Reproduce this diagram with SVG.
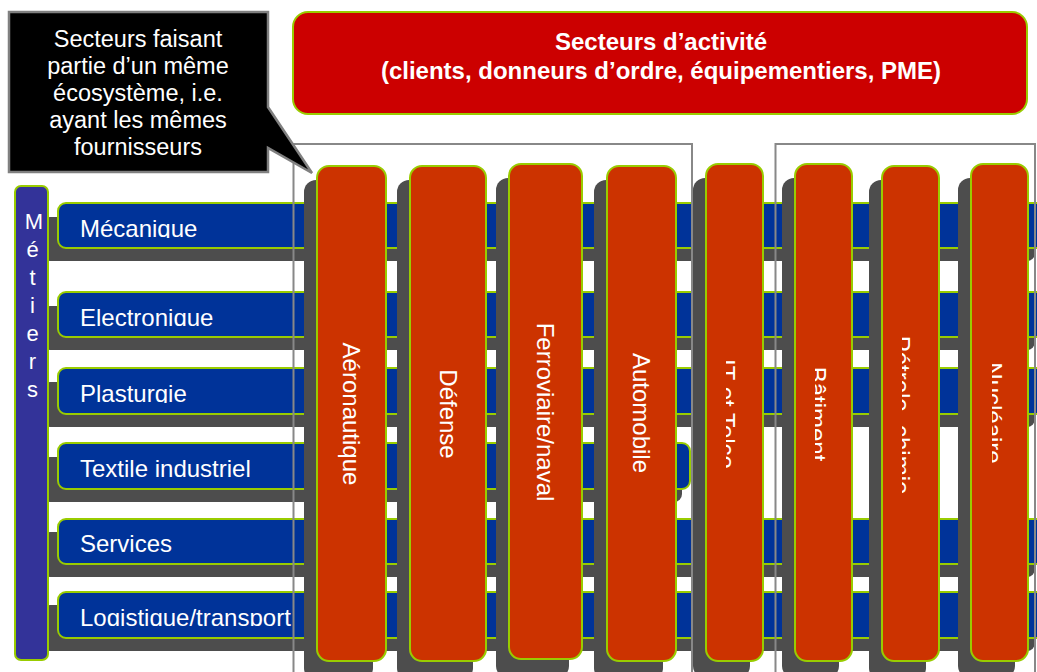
<svg xmlns="http://www.w3.org/2000/svg" width="1037" height="672" viewBox="0 0 1037 672">
<style>
text{font-family:"Liberation Sans",Arial,sans-serif;fill:#fff}
.lbl{font-size:24px}
.vl{font-size:24px;text-anchor:middle}
.bshadow{fill:#4d4d4d}
.blue{fill:#003399;stroke:#99cc00;stroke-width:2}
.red{fill:#cc3300;stroke:#99cc00;stroke-width:2}
.rshadow{fill:#4d4d4d}
.grp{fill:none;stroke:#888;stroke-width:2}
</style>
<defs>
<clipPath id="c1"><rect x="0" y="190" width="1037" height="48"/></clipPath>
<clipPath id="c2"><rect x="0" y="290" width="1037" height="36"/></clipPath>
<clipPath id="c3"><rect x="0" y="360" width="1037" height="43"/></clipPath>
<clipPath id="c6"><rect x="0" y="590" width="1037" height="36"/></clipPath>
<clipPath id="v5"><rect x="726" y="300" width="40" height="220"/></clipPath>
<clipPath id="v6"><rect x="815" y="300" width="40" height="220"/></clipPath>
<clipPath id="v7"><rect x="902" y="300" width="40" height="220"/></clipPath>
<clipPath id="v8"><rect x="992" y="300" width="40" height="220"/></clipPath>
</defs>
<rect width="1037" height="672" fill="#fff"/>

<g id="metiers-rows">
<g id="row-mecanique">
<rect class="bshadow" x="42" y="217" width="993" height="44" rx="8"/>
<rect class="blue" x="58" y="203" width="990" height="45" rx="8"/>
<g clip-path="url(#c1)"><text class="lbl" x="80" y="237">Mécanique</text></g>
</g>
<g id="row-electronique">
<rect class="bshadow" x="42" y="306" width="993" height="44" rx="8"/>
<rect class="blue" x="58" y="292" width="990" height="45" rx="8"/>
<g clip-path="url(#c2)"><text class="lbl" x="80" y="326">Electronique</text></g>
</g>
<g id="row-plasturgie">
<rect class="bshadow" x="42" y="382" width="993" height="45" rx="8"/>
<rect class="blue" x="58" y="368" width="990" height="46" rx="8"/>
<g clip-path="url(#c3)"><text class="lbl" x="80" y="402">Plasturgie</text></g>
</g>
<g id="row-textile">
<rect class="bshadow" x="42" y="457" width="640" height="45" rx="8"/>
<rect class="blue" x="58" y="443" width="632" height="46" rx="8"/>
<text class="lbl" x="80" y="477">Textile industriel</text>
</g>
<g id="row-services">
<rect class="bshadow" x="42" y="532" width="993" height="45" rx="8"/>
<rect class="blue" x="58" y="519" width="990" height="45" rx="8"/>
<text class="lbl" x="80" y="552">Services</text>
</g>
<g id="row-logistique">
<rect class="bshadow" x="42" y="605" width="993" height="46" rx="8"/>
<rect class="blue" x="58" y="592" width="990" height="46" rx="8"/>
<g clip-path="url(#c6)"><text class="lbl" x="80" y="626">Logistique/transport</text></g>
</g>
</g>

<g id="metiers">
<rect x="15" y="186" width="33" height="474" rx="6" fill="#333399" stroke="#99cc00" stroke-width="2"/>
<g style="font-size:22px;text-anchor:middle">
<text x="34" y="229">M</text>
<text x="32.5" y="257">é</text>
<text x="32.5" y="285">t</text>
<text x="32.5" y="313">i</text>
<text x="32.5" y="341">e</text>
<text x="32.5" y="369">r</text>
<text x="32.5" y="397">s</text>
</g>
</g>

<g id="connectors">
<rect class="grp" x="293.5" y="144" width="398.5" height="540"/>
<rect class="grp" x="775.5" y="144" width="259.5" height="540"/>
</g>

<g id="sect-aero">
<rect class="rshadow" x="304" y="180" width="69" height="500" rx="12"/>
<rect class="red" x="317" y="166" width="69" height="495" rx="12"/>
<text class="vl" transform="translate(343,414) rotate(90)">Aéronautique</text>
</g>
<g id="sect-defense">
<rect class="rshadow" x="397" y="180" width="76" height="500" rx="12"/>
<rect class="red" x="410" y="166" width="76" height="495" rx="12"/>
<text class="vl" transform="translate(439.5,414) rotate(90)">Défense</text>
</g>
<g id="sect-ferro">
<rect class="rshadow" x="496" y="178" width="73" height="500" rx="12"/>
<rect class="red" x="509" y="164" width="73" height="495" rx="12"/>
<text class="vl" transform="translate(537,412) rotate(90)">Ferroviaire/naval</text>
</g>
<g id="sect-auto">
<rect class="rshadow" x="594" y="180" width="69" height="500" rx="12"/>
<rect class="red" x="607" y="166" width="69" height="495" rx="12"/>
<text class="vl" transform="translate(633,413) rotate(90)">Automobile</text>
</g>
<g id="sect-it">
<rect class="rshadow" x="693" y="178" width="57" height="500" rx="12"/>
<rect class="red" x="706" y="164" width="57" height="497" rx="12"/>
<g clip-path="url(#v5)"><text class="vl" transform="translate(718,414) rotate(90)">IT et Telco</text></g>
</g>
<g id="sect-batiment">
<rect class="rshadow" x="782" y="178" width="57" height="500" rx="12"/>
<rect class="red" x="795" y="164" width="57" height="497" rx="12"/>
<g clip-path="url(#v6)"><text class="vl" transform="translate(809,414) rotate(90)">Bâtiment</text></g>
</g>
<g id="sect-petrole">
<rect class="rshadow" x="869" y="180" width="57" height="500" rx="12"/>
<rect class="red" x="882" y="166" width="57" height="495" rx="12"/>
<g clip-path="url(#v7)"><text class="vl" transform="translate(893,415) rotate(90)">Pétrole, chimie</text></g>
</g>
<g id="sect-nucleaire">
<rect class="rshadow" x="958" y="178" width="57" height="500" rx="12"/>
<rect class="red" x="971" y="164" width="57" height="497" rx="12"/>
<g clip-path="url(#v8)"><text class="vl" transform="translate(985,413) rotate(90)">Nucléaire</text></g>
</g>

<g id="callout">
<path d="M9,12 H268 V107 L312,173 L268,148 V172 H9 Z" fill="#000" stroke="#808080" stroke-width="2.5" stroke-linejoin="miter"/>
<g style="font-size:23.5px;text-anchor:middle">
<text x="138" y="47">Secteurs faisant</text>
<text x="138" y="74">partie d’un même</text>
<text x="138" y="101">écosystème, i.e.</text>
<text x="138" y="128">ayant les mêmes</text>
<text x="138" y="155">fournisseurs</text>
</g>
</g>

<g id="title">
<rect x="293" y="12" width="734" height="102" rx="15" fill="#cc0000" stroke="#99cc00" stroke-width="2"/>
<g style="font-size:24px;font-weight:bold;text-anchor:middle">
<text x="661" y="50">Secteurs d’activité</text>
<text x="661" y="79">(clients, donneurs d’ordre, équipementiers, PME)</text>
</g>
</g>
</svg>
